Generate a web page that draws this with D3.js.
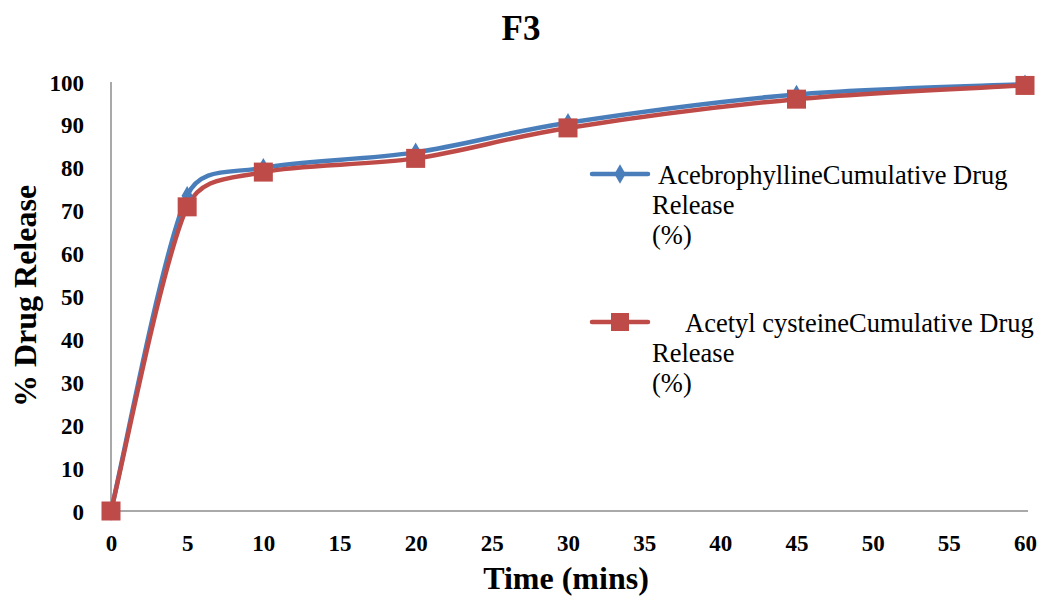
<!DOCTYPE html>
<html>
<head>
<meta charset="utf-8">
<script src="https://cdn.jsdelivr.net/npm/d3@7"></script>
<style>
  html, body { margin: 0; padding: 0; background: #fff; }
  svg text { font-family: "Liberation Serif", "Times New Roman", serif; fill: #000; }
</style>
</head>
<body>
<svg id="chart" width="1042" height="599"></svg>
<script>
// Sampling times (minutes)
const times = [0, 5, 10, 20, 30, 45, 60];
// Cumulative drug release (%)
const acebrophylline = [0, 73.5, 80.0, 83.6, 90.5, 97.1, 99.5];
const acetylCysteine = [0, 70.9, 79.0, 82.2, 89.3, 96.0, 99.2];
const xTicks = [0, 5, 10, 15, 20, 25, 30, 35, 40, 45, 50, 55, 60];
const yTicks = [0, 10, 20, 30, 40, 50, 60, 70, 80, 90, 100];
const seriesNames = [
  ["AcebrophyllineCumulative Drug", "Release", "(%)"],
  ["Acetyl cysteineCumulative Drug", "Release", "(%)"]
];
const colors = ["#4a7ebb", "#be4b48"];

const svg = d3.select("#chart");
const x = d3.scaleLinear().domain([0, 60]).range([111, 1025]);
const y = d3.scaleLinear().domain([0, 100]).range([511, 82]);

// Title
svg.append("text").attr("x", 521).attr("y", 40)
  .attr("text-anchor", "middle").attr("font-size", 35).attr("font-weight", "bold")
  .text("F3");

// Axes lines
svg.append("line").attr("x1", x(0)).attr("x2", 1028).attr("y1", y(0)).attr("y2", y(0))
  .attr("stroke", "#8c8c8c").attr("stroke-width", 1.5);
svg.append("line").attr("x1", x(0)).attr("x2", x(0)).attr("y1", y(0)).attr("y2", y(100))
  .attr("stroke", "#8c8c8c").attr("stroke-width", 1.5);

// Tick labels
const xAxis = d3.axisBottom(x).tickValues(xTicks).tickSize(0).tickPadding(0);
const gx = svg.append("g").attr("transform", `translate(0,${y(0) + 32})`).call(xAxis);
gx.select(".domain").remove();
gx.selectAll("text").attr("font-size", 23).attr("font-weight", "bold")
  .attr("fill", "#000").attr("dy", "0.35em");

const yAxis = d3.axisLeft(y).tickValues(yTicks).tickSize(0).tickPadding(0);
const gy = svg.append("g").attr("transform", `translate(${x(0) - 27},0)`).call(yAxis);
gy.select(".domain").remove();
gy.selectAll("text").attr("font-size", 23).attr("font-weight", "bold")
  .attr("fill", "#000").attr("dy", "0.35em");

// Axis titles
svg.append("text").attr("x", 566).attr("y", 589)
  .attr("text-anchor", "middle").attr("font-size", 32).attr("font-weight", "bold")
  .text("Time (mins)");
svg.append("text").attr("transform", "translate(36,296) rotate(-90)")
  .attr("text-anchor", "middle").attr("font-size", 32).attr("font-weight", "bold")
  .text("% Drug Release");

// Smoothed line: Catmull-Rom style tangents (1/6 of neighbour span),
// with each control arm limited to a share of its own segment's chord.
function smoothPath(vals) {
  const pts = vals.map((v, i) => [x(times[i]), y(v)]);
  const n = pts.length;
  const p = d3.path();
  p.moveTo(pts[0][0], pts[0][1]);
  const limit = 0.4;
  for (let i = 0; i < n - 1; i++) {
    const p0 = pts[Math.max(i - 1, 0)], p1 = pts[i], p2 = pts[i + 1], p3 = pts[Math.min(i + 2, n - 1)];
    const chord = Math.hypot(p2[0] - p1[0], p2[1] - p1[1]);
    let t1 = [(p2[0] - p0[0]) / 6, (p2[1] - p0[1]) / 6];
    let t2 = [(p3[0] - p1[0]) / 6, (p3[1] - p1[1]) / 6];
    const l1 = Math.hypot(t1[0], t1[1]), l2 = Math.hypot(t2[0], t2[1]);
    if (l1 > limit * chord) { const k = limit * chord / l1; t1 = [t1[0] * k, t1[1] * k]; }
    if (l2 > limit * chord) { const k = limit * chord / l2; t2 = [t2[0] * k, t2[1] * k]; }
    p.bezierCurveTo(p1[0] + t1[0], p1[1] + t1[1], p2[0] - t2[0], p2[1] - t2[1], p2[0], p2[1]);
  }
  return p.toString();
}

const data = [acebrophylline, acetylCysteine];
data.forEach((vals, s) => {
  svg.append("path").attr("d", smoothPath(vals))
    .attr("fill", "none").attr("stroke", colors[s]).attr("stroke-width", 4.5)
    .attr("stroke-linejoin", "round");
});

// Markers
const diamond = d3.symbol().type(d3.symbolDiamond).size(110);
svg.append("g").selectAll("path").data(acebrophylline).join("path")
  .attr("d", diamond)
  .attr("transform", (d, i) => `translate(${x(times[i])},${y(d)})`)
  .attr("fill", colors[0]);
svg.append("g").selectAll("rect").data(acetylCysteine).join("rect")
  .attr("x", (d, i) => x(times[i]) - 9.5).attr("y", d => y(d) - 9.5)
  .attr("width", 19).attr("height", 19)
  .attr("fill", colors[1]);

// Legend
const legendY = [174, 322];
const textX = [658, 685];
legendY.forEach((ly, s) => {
  svg.append("line").attr("x1", 592).attr("x2", 648).attr("y1", ly).attr("y2", ly)
    .attr("stroke", colors[s]).attr("stroke-width", 4.5).attr("stroke-linecap", "round");
  if (s === 0) {
    svg.append("path").attr("d", diamond).attr("transform", `translate(620,${ly})`)
      .attr("fill", colors[0]);
  } else {
    svg.append("rect").attr("x", 611).attr("y", ly - 9).attr("width", 18).attr("height", 18)
      .attr("fill", colors[1]);
  }
  seriesNames[s].forEach((t, k) => {
    svg.append("text").attr("x", k === 0 ? textX[s] : 652).attr("y", ly + 10 + k * 30)
      .attr("font-size", 26.5).text(t);
  });
});
</script>
</body>
</html>
